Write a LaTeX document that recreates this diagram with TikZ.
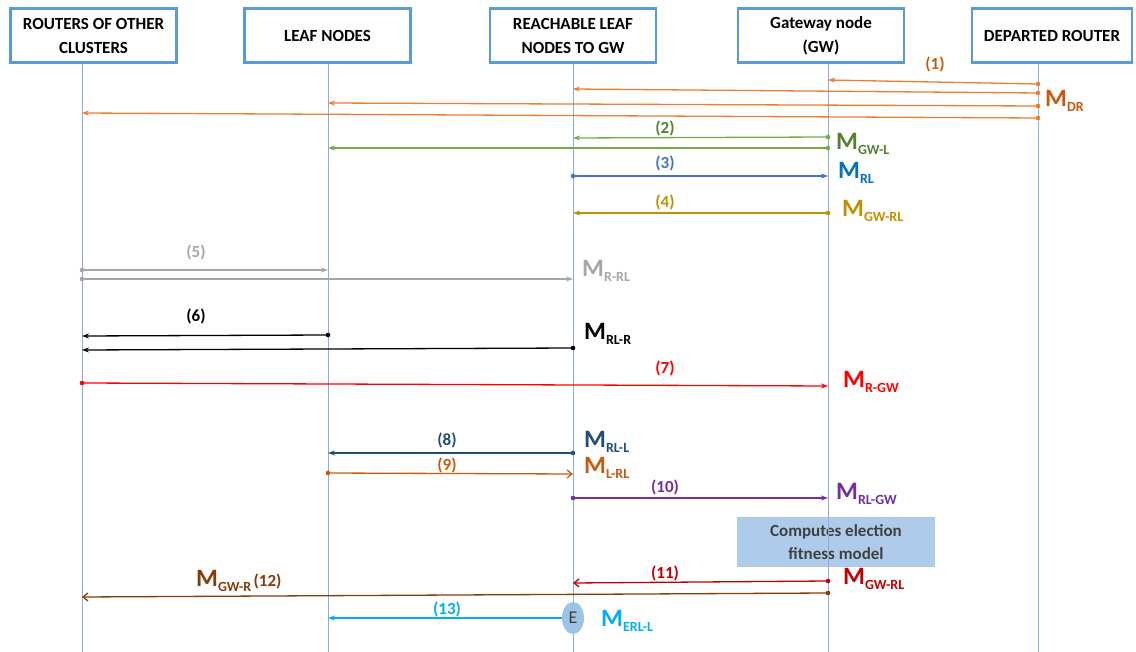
\documentclass[tikz,border=0pt]{standalone}
\usepackage{fontspec}
\setmainfont{Carlito}
\usetikzlibrary{positioning,arrows.meta,calc,shapes.geometric}
\definecolor{boxblue}{RGB}{91,155,213}
\definecolor{lifeblue}{RGB}{143,170,220}
\definecolor{orgA}{RGB}{237,125,49}
\definecolor{orgB}{RGB}{197,90,17}
\definecolor{grnA}{RGB}{112,173,71}
\definecolor{grnB}{RGB}{84,130,53}
\definecolor{bluA}{RGB}{68,114,196}
\definecolor{bluB}{RGB}{0,112,192}
\definecolor{gldA}{RGB}{191,144,0}
\definecolor{gryA}{RGB}{166,166,166}
\definecolor{dkblu}{RGB}{31,78,121}
\definecolor{purA}{RGB}{112,48,160}
\definecolor{dkred}{RGB}{192,0,0}
\definecolor{brnA}{RGB}{132,60,12}
\definecolor{cyanA}{RGB}{0,176,240}
\definecolor{notefill}{RGB}{174,204,234}
\definecolor{efill}{RGB}{157,195,230}
\newcommand{\msglbl}[1]{{\fontsize{25}{25}\selectfont M}\raisebox{-5pt}{\fontsize{14}{14}\selectfont #1}}

\begin{document}
\begin{tikzpicture}[x=1pt,y=-1pt,
  actor/.style={draw=boxblue, line width=2.6pt, fill=white, minimum width=166pt, minimum height=54pt, font=\fontsize{17}{24}\selectfont\bfseries, align=center, inner sep=0pt},
  life/.style={draw=lifeblue, line width=0.8pt},
  msg/.style={-{Stealth[length=7pt,width=5pt]}, line width=1.3pt},
  opn/.style={-{Straight Barb[length=5pt,width=8pt]}, line width=1.3pt},
  num/.style={font=\fontsize{17}{17}\selectfont\bfseries, inner sep=1pt},
  mlb/.style={font=\bfseries, anchor=west, inner sep=0pt},
]
\useasboundingbox (0,0) rectangle (1136,652);
% Election note (under the lifelines)
\node[fill=notefill, minimum width=198pt, minimum height=50pt, align=center, font=\fontsize{17}{23}\selectfont\bfseries, text=black!75] (cmp) at (836,542) {Computes election\\fitness model};
% Actors
\node[actor] (rtr) at (93.5,35.5) {ROUTERS OF OTHER\\CLUSTERS};
\node[actor] (leaf) at (327.5,35.5) {LEAF NODES};
\node[actor] (rlg) at (573,35.5) {REACHABLE LEAF\\NODES TO GW};
\node[actor] (gw) at (821,35.5) {Gateway node\\(GW)};
\node[actor, minimum width=160pt] (dep) at (1052,35.5) {DEPARTED ROUTER};
% Lifelines
\foreach \ln/\lx in {Lr/82, Ll/328, Lg/573, Lw/828, Ld/1038} {
  \coordinate (\ln) at (\lx,64);
  \coordinate (\ln b) at (\lx,652);
  \draw[life] (\ln) -- (\ln b);
}
% Messages
\foreach \a/\ya/\b/\yb/\col/\st [count=\k] in {Ld/84/Lw/80/orgA/msg, Ld/93/Lg/89/orgA/msg, Ld/106/Ll/103/orgA/msg, Ld/118/Lr/113/orgA/msg,
    Lw/137/Lg/138/grnA/msg, Lw/148/Ll/148/grnA/msg, Lg/176/Lw/176/bluA/msg, Lw/213/Lg/213/gldA/msg,
    Lr/270/Ll/270/gryA/msg, Lr/279/Lg/279/gryA/msg, Ll/335/Lr/336/black/msg, Lg/348/Lr/350/black/msg,
    Lr/383/Lw/386/red/msg, Lg/453/Ll/453/dkblu/msg, Ll/473/Lg/474/orgB/opn, Lg/498/Lw/498/purA/msg,
    Lw/581/Lg/583/dkred/opn, Lw/593/Lr/597/brnA/opn} {
  \coordinate (s\k) at (\a |- 0,\ya);
  \coordinate (e\k) at (\b |- 0,\yb);
  \draw[\st, \col] (s\k) -- (e\k);
  \fill[\col] (s\k) circle (2.3pt);
}
% Step numbers
\node[num, orgB] (n1) at (935,64) {(1)};
\node[num, grnB] (n2) at (665,128) {(2)};
\node[num, bluA] (n3) at (665,163) {(3)};
\node[num, gldA] (n4) at (665,202) {(4)};
\node[num, gryA] (n5) at (196,252) {(5)};
\node[num, black] (n6) at (196,316) {(6)};
\node[num, red] (n7) at (665,368) {(7)};
\node[num, dkblu] (n8) at (447,440) {(8)};
\node[num, orgB] (n9) at (447,465) {(9)};
\node[num, purA] (n10) at (665,487) {(10)};
\node[num, dkred] (n11) at (665,573) {(11)};
\node[num, cyanA] (n13) at (447,609) {(13)};
% Message names
\node[mlb, orgB] (mdr) at (1045,101) {\msglbl{DR}};
\node[mlb, grnB] (mgwl) at (836,144) {\msglbl{GW-L}};
\node[mlb, bluB] (mrl) at (838,173) {\msglbl{RL}};
\node[mlb, gldA] (mgwrl) at (842,211) {\msglbl{GW-RL}};
\node[mlb, gryA] (mrrl) at (582,271) {\msglbl{R-RL}};
\node[mlb, black] (mrlr) at (584,334) {\msglbl{RL-R}};
\node[mlb, red] (mrgw) at (843,382) {\msglbl{R-GW}};
\node[mlb, dkblu] (mrll) at (584,442) {\msglbl{RL-L}};
\node[mlb, orgB] (mlrl) at (584,468) {\msglbl{L-RL}};
\node[mlb, purA] (mrlgw) at (836,494) {\msglbl{RL-GW}};
\node[mlb, dkred] (mgwrl2) at (843,579) {\msglbl{GW-RL}};
\node[mlb, brnA] (mgwr) at (196,581) {\msglbl{GW-R} {\fontsize{17}{17}\selectfont(12)}};
\node[mlb, cyanA] (merll) at (601,621) {\msglbl{ERL-L}};
% Elected node
\node[ellipse, fill=efill, minimum width=22pt, minimum height=32pt, inner sep=0pt, font=\fontsize{18}{18}\selectfont, text=black!75] (E) at (573,618) {E};
\draw[msg, cyanA] (E) -- (Ll |- E);
\end{tikzpicture}
\end{document}
